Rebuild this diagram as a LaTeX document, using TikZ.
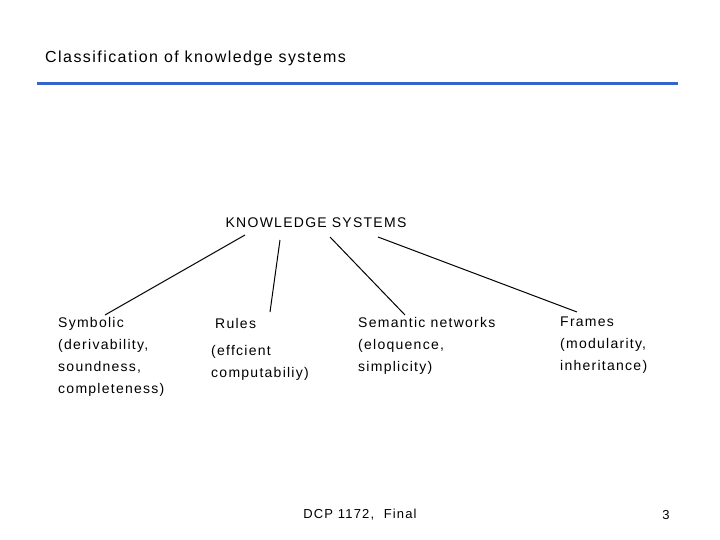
\documentclass[tikz,border=0pt]{standalone}
\usepackage{fontspec}
\setmainfont{Liberation Sans}[LetterSpace=9]
\begin{document}
\begin{tikzpicture}[x=1pt,y=-1pt,
  txt/.style={anchor=west,inner sep=0pt,font=\fontsize{14}{22}\selectfont,align=left},
  conn/.style={line width=1pt,black}]
\useasboundingbox[fill=white] (0,0) rectangle (720,540);
\node[txt,font=\fontsize{16}{19}\selectfont] (title) at (45,58) {Classification of knowledge systems};
\coordinate (l1) at (37,84); \coordinate (l2) at (678,84);
\draw[line width=3pt,color={rgb,255:red,51;green,102;blue,204}] (l1) -- (l2);
\node[txt,anchor=center] (ks) at (316,223) {KNOWLEDGE SYSTEMS};
\node[txt,anchor=north west] (sym) at (58,317) {Symbolic\\(derivability,\\soundness,\\completeness)};
\node[txt] (rules) at (215,323) {Rules};
\node[txt,anchor=north west] (rules2) at (211,345) {(effcient\\computabiliy)};
\node[txt,anchor=north west] (sem) at (358,317) {Semantic networks\\(eloquence,\\simplicity)};
\node[txt,anchor=north west] (fr) at (560,317) {Frames\\(modularity,\\inheritance)};
\coordinate (a1) at (245,235); \coordinate (b1) at (105,315);
\coordinate (a2) at (280,240); \coordinate (b2) at (270,312);
\coordinate (a3) at (330,237); \coordinate (b3) at (405,315);
\coordinate (a4) at (378,237); \coordinate (b4) at (577,312);
\draw[conn] (a1) -- (b1);
\draw[conn] (a2) -- (b2);
\draw[conn] (a3) -- (b3);
\draw[conn] (a4) -- (b4);
\node[txt,anchor=center,font=\fontsize{13}{16}\selectfont] (foot) at (360,515) {DCP 1172,~ Final};
\node[txt,anchor=center,font=\fontsize{13}{16}\selectfont] (pg) at (666,515) {3};
\end{tikzpicture}
\end{document}
